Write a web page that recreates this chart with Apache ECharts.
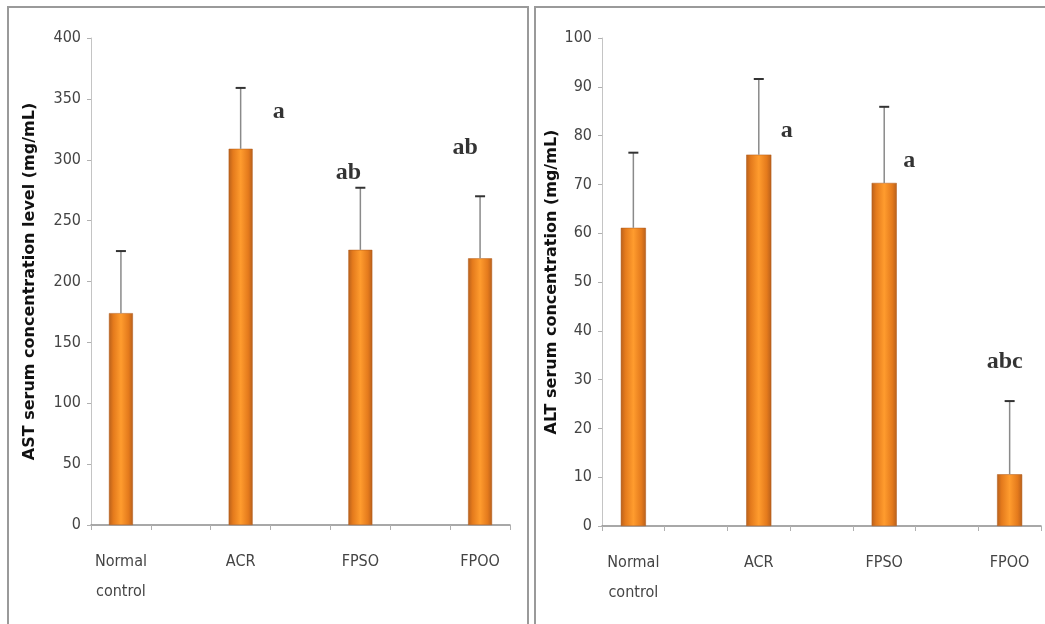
<!DOCTYPE html>
<html>
<head>
<meta charset="utf-8">
<script src="https://cdn.jsdelivr.net/npm/echarts@6/dist/echarts.min.js"></script>
<style>
html,body{margin:0;padding:0;background:#fff;}
#chart{width:1045px;height:624px;}
</style>
</head>
<body>
<div id="chart"></div>
<script>
// ---- data ----
const groups = ['Normal\ncontrol', 'ACR', 'FPSO', 'FPOO'];
const astMean = [174, 309, 226, 219];
const astUpper = [225, 359, 277, 270];
const astLetters = ['', 'a', 'ab', 'ab'];
const altMean = [61.1, 76.1, 70.3, 10.6];
const altUpper = [76.5, 91.6, 85.9, 25.6];
const altLetters = ['', 'a', 'a', 'abc'];
const astTicks = [0, 50, 100, 150, 200, 250, 300, 350, 400];
const altTicks = [0, 10, 20, 30, 40, 50, 60, 70, 80, 90, 100];

// letter label offsets (px) relative to error-bar top (style only)
const astLetterOffset = [[0, 0], [38, 24], [-12, -15], [-15, -48]];
const altLetterOffset = [[0, 0], [28, 52], [25, 54], [-5, -39]];

// spaced categories: group, gap, group, gap ...
const cats = [];
groups.forEach((g, i) => { cats.push(g); if (i < groups.length - 1) cats.push(''); });
const idxOf = i => i * 2;

function barData(vals) {
  const d = cats.map(() => '-');
  vals.forEach((v, i) => { d[idxOf(i)] = v; });
  return d;
}
function errData(mean, up) {
  return mean.map((m, i) => [idxOf(i), m, up[i]]);
}
function letterData(up, letters, offs) {
  return letters.map((t, i) => ({
    value: [idxOf(i), up[i]],
    name: t,
    label: { offset: offs[i] }
  })).filter(d => d.name !== '');
}

const barColor = {
  type: 'linear', x: 0, y: 0, x2: 1, y2: 0,
  colorStops: [
    { offset: 0, color: '#b8601c' },
    { offset: 0.18, color: '#e47a1c' },
    { offset: 0.5, color: '#ff9c2e' },
    { offset: 0.82, color: '#e47a1c' },
    { offset: 1, color: '#b8601c' }
  ]
};

const tickFont = { fontFamily: 'DejaVu Sans Condensed, Liberation Sans Narrow, sans-serif', fontSize: 16, color: '#444' };

function xAxis(gi) {
  return {
    type: 'category', gridIndex: gi, data: cats, boundaryGap: true,
    axisLine: { lineStyle: { color: '#8c8c8c', width: 1.5 } },
    axisTick: { show: true, interval: 0, length: 5, lineStyle: { color: '#b0b0b0' } },
    axisLabel: Object.assign({ interval: 0, margin: 22, lineHeight: 30 }, tickFont),
    splitLine: { show: false }
  };
}
function yAxis(gi, max, interval, name, gap) {
  return {
    type: 'value', gridIndex: gi, min: 0, max: max, interval: interval,
    name: name, nameLocation: 'middle', nameGap: gap,
    nameTextStyle: { fontFamily: 'DejaVu Sans', fontWeight: 'bold', fontSize: 16, color: '#111' },
    axisLine: { show: true, lineStyle: { color: '#c4c4c4', width: 1 } },
    axisTick: { show: true, length: 4, lineStyle: { color: '#b0b0b0' } },
    axisLabel: Object.assign({ margin: 10 }, tickFont),
    splitLine: { show: false }
  };
}
function errSeries(xi, yi, data) {
  return {
    type: 'custom', xAxisIndex: xi, yAxisIndex: yi, data: data, z: 3,
    renderItem: function (params, api) {
      const x = api.value(0), m = api.value(1), u = api.value(2);
      const p0 = api.coord([x, m]);
      const p1 = api.coord([x, u]);
      return {
        type: 'group', children: [
          { type: 'line', shape: { x1: p0[0], y1: p0[1], x2: p1[0], y2: p1[1] }, style: { stroke: '#8a8a8a', lineWidth: 1.5 } },
          { type: 'line', shape: { x1: p1[0] - 5, y1: p1[1], x2: p1[0] + 5, y2: p1[1] }, style: { stroke: '#333', lineWidth: 2 } }
        ]
      };
    }
  };
}
function letterSeries(xi, yi, data) {
  return {
    type: 'scatter', xAxisIndex: xi, yAxisIndex: yi, data: data, symbolSize: 0, z: 5,
    label: {
      show: true, position: 'inside', formatter: p => p.name,
      fontFamily: 'Liberation Serif', fontWeight: 'bold', fontSize: 24, color: '#000'
    }
  };
}

const option = {
  animation: false,
  backgroundColor: '#fff',
  graphic: [
    { type: 'rect', shape: { x: 8, y: 7, width: 520, height: 630 }, style: { fill: 'none', stroke: '#9a9a9a', lineWidth: 2 }, z: -1 },
    { type: 'rect', shape: { x: 535, y: 7, width: 530, height: 630 }, style: { fill: 'none', stroke: '#9a9a9a', lineWidth: 2 }, z: -1 }
  ],
  grid: [
    { left: 91, top: 38, right: 535, bottom: 99 },
    { left: 602, top: 38, right: 4, bottom: 98 }
  ],
  xAxis: [xAxis(0), xAxis(1)],
  yAxis: [
    yAxis(0, 400, 50, 'AST serum concentration level (mg/mL)', 53),
    yAxis(1, 100, 10, 'ALT serum concentration (mg/mL)', 42)
  ],
  series: [
    { type: 'bar', xAxisIndex: 0, yAxisIndex: 0, data: barData(astMean), barWidth: '40%',
      itemStyle: { color: barColor, borderColor: '#b05a1a', borderWidth: 0.5 } },
    errSeries(0, 0, errData(astMean, astUpper)),
    letterSeries(0, 0, letterData(astUpper, astLetters, astLetterOffset)),
    { type: 'bar', xAxisIndex: 1, yAxisIndex: 1, data: barData(altMean), barWidth: '40%',
      itemStyle: { color: barColor, borderColor: '#b05a1a', borderWidth: 0.5 } },
    errSeries(1, 1, errData(altMean, altUpper)),
    letterSeries(1, 1, letterData(altUpper, altLetters, altLetterOffset))
  ]
};

const chart = echarts.init(document.getElementById('chart'));
chart.setOption(option);
</script>
</body>
</html>
